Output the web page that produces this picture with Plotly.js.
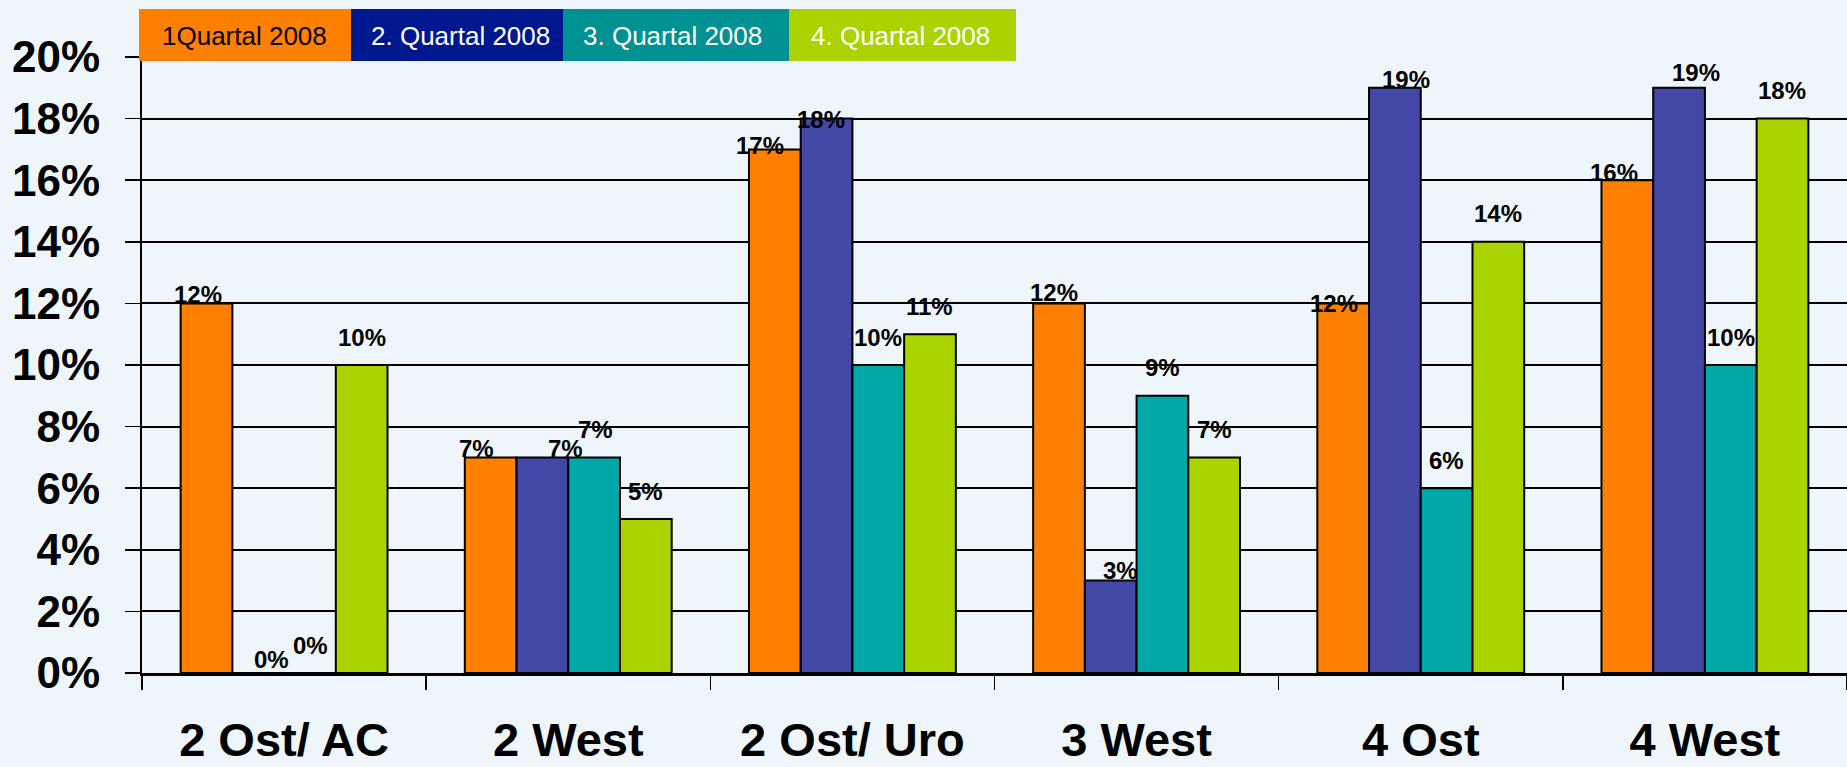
<!DOCTYPE html>
<html>
<head>
<meta charset="utf-8">
<script src="https://cdn.plot.ly/plotly-3.0.1.min.js"></script>
<style>
html,body{margin:0;padding:0;background:#eef6fb;}
#chart{width:1847px;height:767px;}
</style>
</head>
<body>
<div id="chart"></div>
<script>
// ---- data ----
const categories = ['2 Ost/ AC', '2 West', '2 Ost/ Uro', '3 West', '4 Ost', '4 West'];
const seriesNames = ['1Quartal 2008', '2. Quartal 2008', '3. Quartal 2008', '4. Quartal 2008'];
const q1 = [0.12, 0.07, 0.17, 0.12, 0.12, 0.16];
const q2 = [0.00, 0.07, 0.18, 0.03, 0.19, 0.19];
const q3 = [0.00, 0.07, 0.10, 0.09, 0.06, 0.10];
const q4 = [0.10, 0.05, 0.11, 0.07, 0.14, 0.18];
const yTickVals = [0, 0.02, 0.04, 0.06, 0.08, 0.10, 0.12, 0.14, 0.16, 0.18, 0.20];

// ---- styles ----
const barColors = ['#ff7f00', '#4347a6', '#00a8a8', '#aad400'];
const legendColors = ['#ff8000', '#00188f', '#009292', '#aad300'];
const legendTextColors = ['#000000', '#ffffff', '#ffffff', '#ffffff'];
// label nudges in pixels [dx, dyUp] (manual placement as in the original)
const labelNudge = [
  [[-9, 9], [-14, 9], [-15, 4], [-5, 11], [-9, 0], [-13, 8]],
  [[13, 14], [23, 9], [-6, -1], [10, 10], [11, 8], [17, 15]],
  [[1, 28], [1, 28], [0, 28], [0, 28], [0, 28], [0, 28]],
  [[0, 28], [0, 28], [0, 28], [0, 28], [0, 28], [0, 28]]
];

const series = [q1, q2, q3, q4];
const bargap = 0.272;
const barW = (1 - bargap) / series.length;

const FONT = 'Arial, "Liberation Sans", Helvetica, sans-serif';

const traces = series.map((vals, j) => ({
  type: 'bar',
  name: seriesNames[j],
  x: categories,
  y: vals,
  marker: {color: barColors[j], line: {color: '#000', width: 2}},
  hoverinfo: 'x+y',
  showlegend: false
}));

const annotations = [];
series.forEach((vals, j) => {
  vals.forEach((v, i) => {
    annotations.push({
      xref: 'x', yref: 'y',
      x: i + (j - (series.length - 1) / 2) * barW,
      y: v,
      text: Math.round(v * 100) + '%',
      showarrow: false,
      xanchor: 'center', yanchor: 'middle',
      xshift: labelNudge[j][i][0],
      yshift: labelNudge[j][i][1],
      font: {family: FONT, size: 24, color: '#000', weight: 'bold'}
    });
  });
});

// legend boxes (pixel layout)
const L = 142, R = 0, T = 57, B = 94, W = 1847, H = 767;
const pw = W - L - R, ph = H - T - B;
const px2x = p => (p - L) / pw;
const py2y = p => (H - B - p) / ph;
const legBoxes = [[139, 351], [351, 563], [563, 789], [789, 1016]];
const legTextX = [160, 369, 581, 809];
const shapes = [];
seriesNames.forEach((n, j) => {
  shapes.push({
    type: 'rect', xref: 'paper', yref: 'paper', layer: 'above',
    x0: px2x(legBoxes[j][0]), x1: px2x(legBoxes[j][1]),
    y0: py2y(61), y1: py2y(9),
    fillcolor: legendColors[j], line: {width: 0}
  });
  annotations.push({
    xref: 'paper', yref: 'paper',
    x: px2x(legTextX[j]), y: py2y(36),
    xanchor: 'left', yanchor: 'middle',
    text: n, showarrow: false,
    font: {family: FONT, size: 26, color: legendTextColors[j]}
  });
});

const layout = {
  width: W, height: H,
  margin: {l: L, r: R, t: T, b: B, pad: 0},
  paper_bgcolor: '#eef6fb',
  plot_bgcolor: 'rgba(0,0,0,0)',
  barmode: 'group',
  bargap: bargap,
  bargroupgap: 0,
  showlegend: false,
  font: {family: FONT, color: '#000'},
  xaxis: {
    type: 'category',
    categoryorder: 'array', categoryarray: categories,
    showline: true, linecolor: '#000', linewidth: 3,
    ticks: 'outside', tickson: 'boundaries', ticklen: 14, tickwidth: 1.5, tickcolor: '#000',
    showgrid: false, zeroline: false,
    tickfont: {family: FONT, size: 47, color: '#000', weight: 'bold'},
    ticklabelstandoff: 24,
    automargin: false
  },
  yaxis: {
    range: [0, 0.2],
    tickvals: yTickVals,
    tickformat: '.0%',
    showline: true, linecolor: '#000', linewidth: 2,
    ticks: 'outside', ticklen: 15, tickwidth: 1.5, tickcolor: '#000',
    showgrid: true, gridcolor: '#000', gridwidth: 2,
    zeroline: false,
    tickfont: {family: FONT, size: 44, color: '#000', weight: 'bold'},
    ticklabelstandoff: 16,
    automargin: false
  },
  shapes: shapes,
  annotations: annotations
};

Plotly.newPlot('chart', traces, layout, {displayModeBar: false, staticPlot: true});
</script>
</body>
</html>
